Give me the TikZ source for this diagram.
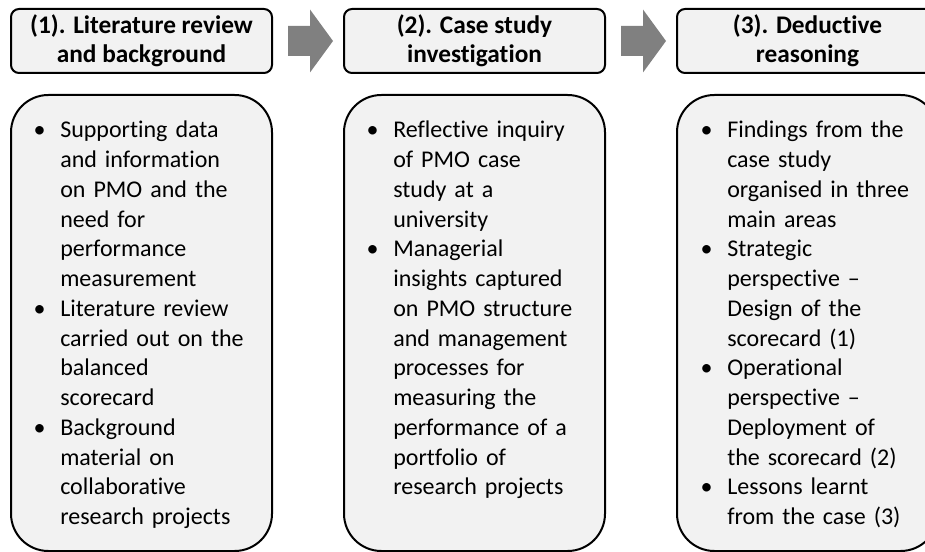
\documentclass[tikz,border=0pt]{standalone}
\usepackage{fontspec}
\setmainfont{Carlito}[Ligatures={NoCommon}]
\usetikzlibrary{positioning,calc}
\definecolor{pmLight}{RGB}{242,242,242}
\definecolor{pmGray}{RGB}{128,128,128}
\tikzset{
    base/.style={font=\fontsize{18}{22.3}\selectfont},
    header/.style={rectangle, rounded corners=6pt, draw=black, line width=1.5pt,
                   fill=pmLight, minimum width=195.75pt, minimum height=48pt,
                   align=center, font=\fontsize{19}{22}\selectfont\bfseries},
    panel/.style={rectangle, rounded corners=28pt, draw=black, line width=1.5pt,
                  fill=pmLight, minimum width=195.75pt, minimum height=342pt},
    points/.style={base, anchor=base west, align=left, inner sep=0pt, text width=170pt},
    flowarrow/.style={fill=pmGray}
}
\newcommand{\itembul}{\leavevmode\llap{\textbullet\hspace{11pt}}}

\begin{document}
\begin{tikzpicture}[x=0.75pt, y=0.75pt]
  \useasboundingbox (0,0) rectangle (925,551);
  \clip (0,0) rectangle (925,551);

  % Stage headers
  \node[header] (h1) at (141.5,510) {(1). Literature review\\and background};
  \node[header, right=52.5pt of h1] (h2) {(2). Case study\\investigation};
  \node[header, right=52.5pt of h2] (h3) {(3). Deductive\\reasoning};

  % Block arrows between stages
  \foreach \a/\b in {h1/h2,h2/h3}
    \fill[flowarrow] ($(\a.east)+(15,15)$) -- ++(22,0) -- ++(0,16.5)
      -- ($(\b.west)+(-10,0)$) -- ($(\a.east)+(37,-31.5)$) -- ++(0,16.5)
      -- ++(-22,0) -- cycle;

  % Panels
  \node[panel, below=15pt of h1] (p1) {};
  \node[panel, below=15pt of h2] (p2) {};
  \node[panel, below=15pt of h3] (p3) {};

  % Bullet points
  \node[points] (t1) at ($(p1.north west)+(50,-44)$) {%
    \itembul Supporting data\\
    and information\\
    on PMO and the\\
    need for\\
    performance\\
    measurement\\
    \itembul Literature review\\
    carried out on the\\
    balanced\\
    scorecard\\
    \itembul Background\\
    material on\\
    collaborative\\
    research projects};
  \node[points] (t2) at ($(p2.north west)+(50,-44)$) {%
    \itembul Reflective inquiry\\
    of PMO case\\
    study at a\\
    university\\
    \itembul Managerial\\
    insights captured\\
    on PMO structure\\
    and management\\
    processes for\\
    measuring the\\
    performance of a\\
    portfolio of\\
    research projects};
  \node[points] (t3) at ($(p3.north west)+(51,-44)$) {%
    \itembul Findings from the\\
    case study\\
    organised in three\\
    main areas\\
    \itembul Strategic\\
    perspective –\\
    Design of the\\
    scorecard (1)\\
    \itembul Operational\\
    perspective –\\
    Deployment of\\
    the scorecard (2)\\
    \itembul Lessons learnt\\
    from the case (3)};
\end{tikzpicture}
\end{document}
